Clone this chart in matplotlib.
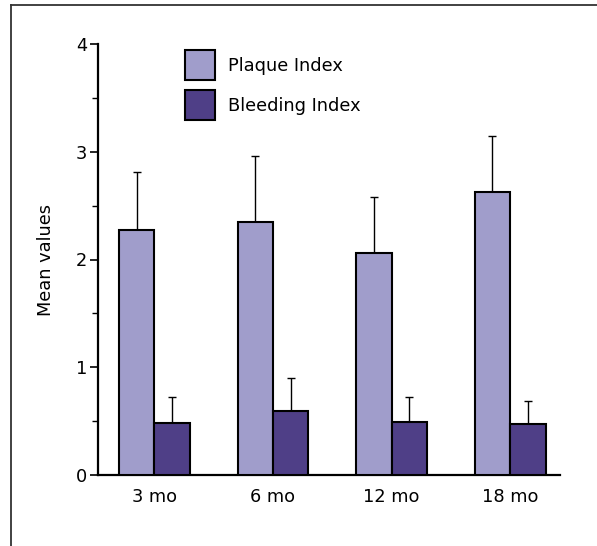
import matplotlib
matplotlib.use("Agg")
import matplotlib.pyplot as plt
import numpy as np
from matplotlib.lines import Line2D

periods = ["3 mo", "6 mo", "12 mo", "18 mo"]
plaque = [2.27, 2.35, 2.06, 2.63]
plaque_sd = [0.54, 0.61, 0.52, 0.52]
bleeding = [0.48, 0.59, 0.49, 0.47]
bleeding_sd = [0.24, 0.31, 0.23, 0.22]

plt.rcParams['font.family'] = 'DejaVu Sans'
fs = 12.8

fig = plt.figure(figsize=(5.97, 5.46), dpi=100)
ax = fig.add_axes([98/597, 1-475/546, 462/597, 431/546])

x = np.arange(len(periods))
w = 0.298
c_plaque = '#a09dcb'
c_bleed = '#4f3f87'

ax.bar(x - w/2, plaque, w, color=c_plaque, edgecolor='black', linewidth=1.5,
       label='Plaque Index', zorder=3)
ax.bar(x + w/2, bleeding, w, color=c_bleed, edgecolor='black', linewidth=1.5,
       label='Bleeding Index', zorder=3)
ax.errorbar(x - w/2, plaque, yerr=[[0]*4, plaque_sd], fmt='none', ecolor='black',
            elinewidth=1.0, capsize=3.0, capthick=1.0, zorder=2)
ax.errorbar(x + w/2, bleeding, yerr=[[0]*4, bleeding_sd], fmt='none', ecolor='black',
            elinewidth=1.0, capsize=3.0, capthick=1.0, zorder=2)

ax.set_xlim(-0.474, 3.42)
ax.set_ylim(0, 4)
ax.set_xticks(x)
ax.set_xticklabels(periods, fontsize=fs)
ax.set_yticks([0, 1, 2, 3, 4])
ax.set_yticks(np.arange(0.5, 4, 1), minor=True)
ax.tick_params(axis='y', which='major', length=6, width=1.2, labelsize=fs, pad=2)
ax.tick_params(axis='y', which='minor', length=4, width=1.0)
ax.tick_params(axis='x', length=0, pad=9)
for s in ['top', 'right']:
    ax.spines[s].set_visible(False)
for s in ['left', 'bottom']:
    ax.spines[s].set_linewidth(1.6)
ax.set_ylabel('Mean values', fontsize=fs, labelpad=15)

ax.legend(loc='upper left', bbox_to_anchor=((185-98)/462, (475-50)/431),
          frameon=False, fontsize=fs, borderpad=0, borderaxespad=0,
          handlelength=1.69, handleheight=2.22, labelspacing=0.56,
          handletextpad=0.73)

# outer frame (top and left only)
fig.add_artist(Line2D([11/597, 11/597], [0, 1-5/546], color='#333333', lw=1.3,
                      transform=fig.transFigure))
fig.add_artist(Line2D([11/597, 1], [1-5/546, 1-5/546], color='#333333', lw=1.3,
                      transform=fig.transFigure))

fig.savefig('out.png', dpi=100)
